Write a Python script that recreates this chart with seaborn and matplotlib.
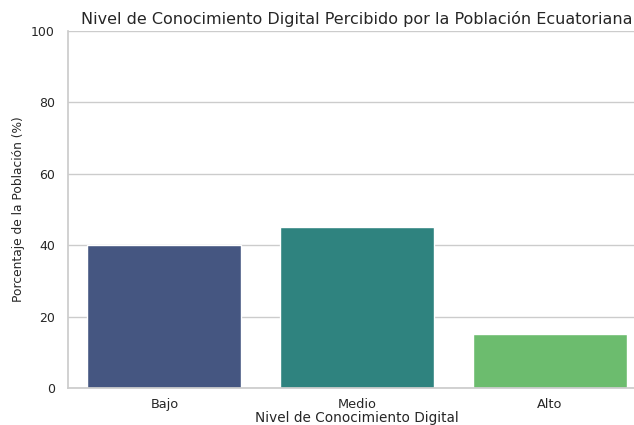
import matplotlib
matplotlib.use("Agg")
import matplotlib.pyplot as plt
import seaborn as sns
import pandas as pd

categorias = ["Bajo", "Medio", "Alto"]
porcentajes = [40, 45, 15]

sns.set_theme(style="whitegrid")
df = pd.DataFrame({"Nivel": categorias, "Porcentaje": porcentajes})

fig = plt.figure(figsize=(6.34, 4.25), dpi=100)
ax = fig.add_axes([68/634, 37/425, 578/634, 357/425])
sns.barplot(data=df, x="Nivel", y="Porcentaje", hue="Nivel", palette="viridis",
            legend=False, ax=ax)
ax.set_ylim(0, 100)
ax.set_xlim(-0.5, 2.5)
ax.set_title("Nivel de Conocimiento Digital Percibido por la Población Ecuatoriana",
             fontsize=11.5, pad=5)
ax.set_xlabel("Nivel de Conocimiento Digital", fontsize=9.8, labelpad=0)
ax.set_ylabel("Porcentaje de la Población (%)", fontsize=8.8)
ax.tick_params(axis="x", labelsize=9.3, pad=1)
ax.tick_params(axis="y", labelsize=9)
sns.despine(ax=ax)
fig.savefig("out.png", dpi=100)
